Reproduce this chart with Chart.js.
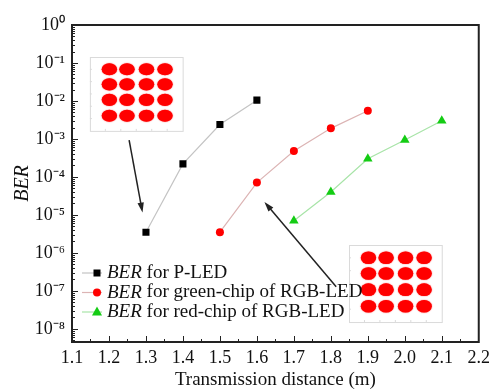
<!DOCTYPE html>
<html>
<head>
<meta charset="utf-8">
<script src="https://cdn.jsdelivr.net/npm/chart.js@4.4.0/dist/chart.umd.min.js"></script>
<style>
  html, body { margin: 0; padding: 0; background: #fff; }
</style>
</head>
<body>
<canvas id="berChart" width="495" height="391"></canvas>
<script>
// values (x = transmission distance in m, y = BER)
const distPLed = [1.3, 1.4, 1.5, 1.6];
const berPLed = [3.5e-6, 2.2e-4, 2.4e-3, 1.05e-2];
const distGreenChip = [1.5, 1.6, 1.7, 1.8, 1.9];
const berGreenChip = [3.5e-6, 7.1e-5, 4.8e-4, 1.9e-3, 5.5e-3];
const distRedChip = [1.7, 1.8, 1.9, 2.0, 2.1];
const berRedChip = [7.0e-6, 4.0e-5, 3.0e-4, 9.4e-4, 3.0e-3];

const xTicks = [1.1, 1.2, 1.3, 1.4, 1.5, 1.6, 1.7, 1.8, 1.9, 2.0, 2.1, 2.2];
const yExponents = [0, -1, -2, -3, -4, -5, -6, -7, -8];
const seriesNames = ['for P-LED', 'for green-chip of RGB-LED', 'for red-chip of RGB-LED'];

const serif = "'Liberation Serif', 'Times New Roman', serif";
const sup = { '0': '\u2070', '1': '\u00B9', '2': '\u00B2', '3': '\u00B3', '4': '\u2074', '5': '\u2075', '6': '\u2076', '7': '\u2077', '8': '\u2078', '9': '\u2079', '-': '\u207B' };
const toSup = s => String(s).split('').map(c => sup[c]).join('');

const pts = (xs, ys) => xs.map((v, i) => ({ x: v, y: ys[i] }));

// inset constellation boxes (fractions of the plot area) and arrows (data coords)
const insets = [
  { left: 0.044, top: 0.101, w: 0.228, h: 0.233 },
  { left: 0.681, top: 0.694, w: 0.228, h: 0.243 }
];
const arrows = [
  { from: [1.2545, 9.3e-4], to: [1.2906, 1.15e-5] },
  { from: [1.8145, 1.29e-7], to: [1.6204, 2.2e-5] }
];

function drawMarker(ctx, style, x, y, color) {
  ctx.fillStyle = color;
  ctx.beginPath();
  if (style === 'rect') {
    ctx.rect(x - 3.5, y - 3.5, 7, 7);
  } else if (style === 'circle') {
    ctx.arc(x, y, 4, 0, Math.PI * 2);
  } else {
    ctx.moveTo(x, y - 5.5);
    ctx.lineTo(x + 5, y + 3.5);
    ctx.lineTo(x - 5, y + 3.5);
    ctx.closePath();
  }
  ctx.fill();
}

function drawInset(ctx, a, b) {
  const W = a.right - a.left, H = a.bottom - a.top;
  const L = a.left + b.left * W, T = a.top + b.top * H, w = b.w * W, h = b.h * H;
  ctx.save();
  ctx.fillStyle = '#fff';
  ctx.fillRect(L, T, w, h);
  ctx.strokeStyle = '#dadada';
  ctx.lineWidth = 1;
  ctx.strokeRect(L + 0.5, T + 0.5, w, h);
  ctx.beginPath();
  for (let i = 1; i < 6; i++) {
    const px = L + i * w / 6, py = T + i * h / 6;
    ctx.moveTo(px, T + h); ctx.lineTo(px, T + h - 2);
    ctx.moveTo(L, py); ctx.lineTo(L + 2, py);
  }
  ctx.stroke();
  const cols = [0.21, 0.40, 0.61, 0.81], rows = [0.165, 0.37, 0.58, 0.795];
  ctx.fillStyle = '#ff0000';
  ctx.shadowColor = '#ff2020';
  ctx.shadowBlur = 1.2;
  for (const cx of cols) {
    for (const cy of rows) {
      ctx.beginPath();
      ctx.ellipse(L + cx * w, T + cy * h, 0.083 * w, 0.082 * h, 0, 0, Math.PI * 2);
      ctx.fill();
    }
  }
  ctx.restore();
}

function drawArrow(ctx, x0, y0, x1, y1) {
  const ang = Math.atan2(y1 - y0, x1 - x0);
  const len = 10, half = 3.2;
  ctx.save();
  ctx.strokeStyle = '#222';
  ctx.fillStyle = '#222';
  ctx.lineWidth = 1.5;
  ctx.beginPath();
  ctx.moveTo(x0, y0);
  ctx.lineTo(x1 - Math.cos(ang) * len * 0.8, y1 - Math.sin(ang) * len * 0.8);
  ctx.stroke();
  ctx.beginPath();
  ctx.moveTo(x1, y1);
  ctx.lineTo(x1 - Math.cos(ang) * len - Math.sin(ang) * half, y1 - Math.sin(ang) * len + Math.cos(ang) * half);
  ctx.lineTo(x1 - Math.cos(ang) * len + Math.sin(ang) * half, y1 - Math.sin(ang) * len - Math.cos(ang) * half);
  ctx.closePath();
  ctx.fill();
  ctx.restore();
}

const decorations = {
  id: 'decorations',
  afterDatasetsDraw(chart) {
    const { ctx, chartArea: a, scales: { x, y } } = chart;
    ctx.save();

    // frame + inward ticks
    ctx.strokeStyle = '#222';
    ctx.lineWidth = 2;
    ctx.strokeRect(a.left, a.top, a.right - a.left, a.bottom - a.top);
    ctx.lineWidth = 1;
    ctx.beginPath();
    for (let e = -9; e <= 0; e++) {
      for (let m = 1; m < 10; m++) {
        const v = m * Math.pow(10, e);
        if (v < y.min || v > y.max * 1.0001) continue;
        const py = Math.round(y.getPixelForValue(v)) + 0.5;
        ctx.moveTo(a.left, py);
        ctx.lineTo(a.left + (m === 1 ? 6 : 3), py);
      }
    }
    for (let i = 1; i < 22; i++) {
      const px = Math.round(x.getPixelForValue(1.1 + i * 0.05)) + 0.5;
      ctx.moveTo(px, a.bottom);
      ctx.lineTo(px, a.bottom - (i % 2 ? 3 : 6));
    }
    ctx.stroke();

    insets.forEach(b => drawInset(ctx, a, b));

    // legend
    const styles = ['rect', 'circle', 'triangle'];
    chart.data.datasets.forEach((ds, i) => {
      const ly = a.bottom - 69 + i * 19.5;
      const lx = a.left + 10;
      ctx.strokeStyle = ds.borderColor;
      ctx.lineWidth = 1.2;
      ctx.beginPath();
      ctx.moveTo(lx, ly);
      ctx.lineTo(lx + 20, ly);
      ctx.stroke();
      drawMarker(ctx, styles[i], lx + 15, ly, ds.pointBackgroundColor);
      ctx.fillStyle = '#111';
      ctx.textBaseline = 'middle';
      ctx.font = 'italic 19px ' + serif;
      ctx.fillText('BER', lx + 25, ly);
      const bw = ctx.measureText('BER ').width;
      ctx.font = '19px ' + serif;
      ctx.fillText(seriesNames[i], lx + 25 + bw, ly);
    });

    arrows.forEach(ar => {
      drawArrow(ctx,
        x.getPixelForValue(ar.from[0]), y.getPixelForValue(ar.from[1]),
        x.getPixelForValue(ar.to[0]), y.getPixelForValue(ar.to[1]));
    });
    ctx.restore();
  }
};

new Chart(document.getElementById('berChart'), {
  type: 'line',
  data: {
    datasets: [
      {
        label: 'BER for P-LED',
        data: pts(distPLed, berPLed),
        borderColor: '#c4c4c4',
        pointBackgroundColor: '#000',
        pointBorderWidth: 0,
        pointStyle: 'rect',
        pointRadius: 5
      },
      {
        label: 'BER for green-chip of RGB-LED',
        data: pts(distGreenChip, berGreenChip),
        borderColor: '#dcb4b4',
        pointBackgroundColor: '#ff0000',
        pointBorderWidth: 0,
        pointStyle: 'circle',
        pointRadius: 4
      },
      {
        label: 'BER for red-chip of RGB-LED',
        data: pts(distRedChip, berRedChip),
        borderColor: '#a8e4a8',
        pointBackgroundColor: '#14cc14',
        pointBorderWidth: 0,
        pointStyle: 'triangle',
        pointRadius: 5.5
      }
    ]
  },
  options: {
    responsive: false,
    animation: false,
    layout: { padding: { top: 25, right: 15, left: 0, bottom: 0 } },
    elements: { line: { borderWidth: 1.2, tension: 0 } },
    plugins: { legend: { display: false }, tooltip: { enabled: false } },
    scales: {
      x: {
        type: 'linear',
        min: 1.1,
        max: 2.2,
        grid: { display: false, drawTicks: false },
        border: { display: false },
        afterBuildTicks: s => { s.ticks = xTicks.map(v => ({ value: v })); },
        afterFit: s => { s.height = 49; },
        ticks: {
          autoSkip: false,
          maxRotation: 0,
          padding: 5,
          color: '#111',
          font: { family: serif, size: 18 },
          callback: v => Number(v).toFixed(1)
        },
        title: {
          display: true,
          text: 'Transmission distance (m)',
          color: '#111',
          font: { family: serif, size: 19 },
          padding: { top: 0, bottom: 0 }
        }
      },
      y: {
        type: 'logarithmic',
        min: 4.5e-9,
        max: 1,
        grid: { display: false, drawTicks: false },
        border: { display: false },
        afterBuildTicks: s => { s.ticks = yExponents.map(e => ({ value: Math.pow(10, e) })); },
        afterFit: s => { s.width = 72; },
        ticks: {
          padding: 7,
          color: '#111',
          font: { family: serif, size: 18 },
          callback: v => '10' + toSup(Math.round(Math.log10(v)))
        },
        title: {
          display: true,
          text: 'BER',
          color: '#111',
          font: { family: serif, size: 20, style: 'italic' },
          padding: { top: 11, bottom: 0 }
        }
      }
    }
  },
  plugins: [decorations]
});
</script>
</body>
</html>
